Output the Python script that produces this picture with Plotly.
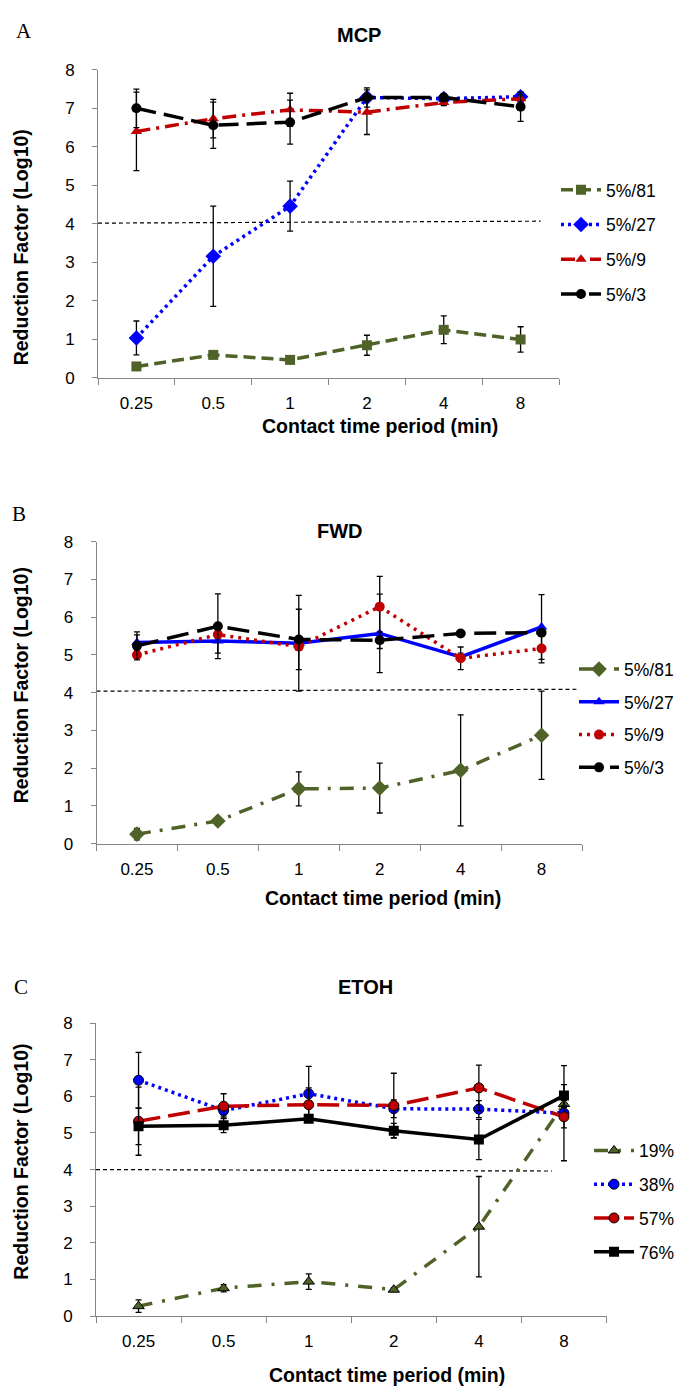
import plotly.graph_objects as go

W, H = 685, 1392

times = ["0.25", "0.5", "1", "2", "4", "8"]
threshold = 4

# Panel A: MCP
mcp_labels = ["5%/81", "5%/27", "5%/9", "5%/3"]
mcp_81 = [0.30, 0.60, 0.47, 0.85, 1.25, 1.00]
mcp_81_err = [0.05, 0.05, 0.05, 0.26, 0.36, 0.33]
mcp_27 = [1.04, 3.16, 4.46, 7.28, 7.25, 7.30]
mcp_27_err = [0.44, 1.30, 0.65, 0.10, 0.08, 0.12]
mcp_9 = [6.40, 6.73, 6.96, 6.90, 7.15, 7.25]
mcp_9_err = [1.02, 0.50, 0.43, 0.58, 0.08, 0.10]
mcp_3 = [7.00, 6.56, 6.64, 7.28, 7.28, 7.04]
mcp_3_err = [0.50, 0.60, 0.57, 0.25, 0.10, 0.38]

# Panel B: FWD
fwd_labels = ["5%/81", "5%/27", "5%/9", "5%/3"]
fwd_81 = [0.25, 0.60, 1.45, 1.47, 1.94, 2.87]
fwd_81_err = [0.15, 0.05, 0.45, 0.66, 1.47, 1.17]
fwd_27 = [5.33, 5.37, 5.31, 5.57, 4.95, 5.74]
fwd_27_err = [0.20, 0.32, 1.27, 1.04, 0.10, 0.86]
fwd_9 = [5.00, 5.54, 5.22, 6.28, 4.91, 5.17]
fwd_9_err = [0.05, 0.10, 0.10, 0.80, 0.30, 0.38]
fwd_3 = [5.24, 5.76, 5.41, 5.39, 5.57, 5.59]
fwd_3_err = [0.37, 0.86, 0.80, 0.22, 0.05, 0.05]

# Panel C: ETOH
etoh_labels = ["19%", "38%", "57%", "76%"]
etoh_19 = [0.27, 0.76, 0.94, 0.72, 2.44, 5.79]
etoh_19_err = [0.17, 0.10, 0.21, 0.05, 1.37, 0.10]
etoh_38 = [6.44, 5.61, 6.07, 5.66, 5.65, 5.54]
etoh_38_err = [0.76, 0.15, 0.75, 0.24, 0.23, 1.30]
etoh_57 = [5.32, 5.73, 5.77, 5.75, 6.23, 5.44]
etoh_57_err = [0.93, 0.34, 0.46, 0.88, 0.62, 0.30]
etoh_76 = [5.18, 5.21, 5.39, 5.06, 4.82, 6.02]
etoh_76_err = [0.50, 0.20, 0.10, 0.20, 0.55, 0.30]

OLIVE = "#4F6228"
BLUE = "#0000FF"
RED = "#C00000"
BLACK = "#000000"
AXIS = "#868686"
FONT = "Liberation Sans, Arial, sans-serif"

fig = go.Figure()


def add(panel, name, y, err, color, dash, symbol, msize, mline=None, lw=3.5):
    ax = "" if panel == 1 else str(panel)
    fig.add_trace(go.Scatter(
        x=times, y=y, name=name, mode="lines+markers",
        xaxis="x" + ax, yaxis="y" + ax, legend="legend" + ax,
        legendgroup=f"{panel}-{name}",
        line=dict(color=color, width=lw, dash=dash),
        marker=dict(symbol=symbol, size=msize, color=color,
                    line=dict(color=mline or color, width=1 if mline else 0)),
        error_y=dict(type="data", array=err, color="black", thickness=1.3, width=3),
    ))


# A
add(1, mcp_labels[0], mcp_81, mcp_81_err, OLIVE, "12px,6px", "square", 10)
add(1, mcp_labels[1], mcp_27, mcp_27_err, BLUE, "3px,4px", "diamond", 12)
add(1, mcp_labels[2], mcp_9, mcp_9_err, RED, "14px,6px,3px,6px", "triangle-up", 10)
add(1, mcp_labels[3], mcp_3, mcp_3_err, BLACK, "20px,8px", "circle", 10)
# B
add(2, fwd_labels[0], fwd_81, fwd_81_err, OLIVE, "14px,9px,3px,9px", "diamond", 12)
add(2, fwd_labels[1], fwd_27, fwd_27_err, BLUE, "solid", "triangle-up", 10)
add(2, fwd_labels[2], fwd_9, fwd_9_err, RED, "3px,5px", "circle", 10)
add(2, fwd_labels[3], fwd_3, fwd_3_err, BLACK, "22px,9px", "circle", 10)
# C
add(3, etoh_labels[0], etoh_19, etoh_19_err, OLIVE, "14px,10px,3px,10px", "triangle-up", 10, "#000000")
add(3, etoh_labels[1], etoh_38, etoh_38_err, BLUE, "3px,4px", "circle", 10, "#000000")
add(3, etoh_labels[2], etoh_57, etoh_57_err, RED, "22px,8px", "circle", 10, "#000000")
add(3, etoh_labels[3], etoh_76, etoh_76_err, BLACK, "solid", "square", 10)


def px2x(p):
    return p / W


def px2y(p):
    return 1 - p / H


panels = [
    # x0, x1, ytop(8), ybottom(0)
    dict(x0=90, x1=551, yt=53.5, yb=366),
    dict(x0=88.5, x1=574, yt=532, yb=838),
    dict(x0=88, x1=598.5, yt=1020, yb=1317),
]

layout = dict(
    width=W, height=H, margin=dict(l=0, r=0, t=0, b=0),
    paper_bgcolor="white", plot_bgcolor="white",
    font=dict(family=FONT, size=17, color="black"),
    showlegend=True,
)

for i, p in enumerate(panels, start=1):
    sfx = "" if i == 1 else str(i)
    layout["xaxis" + sfx] = dict(
        domain=[px2x(p["x0"]), px2x(p["x1"])], anchor="y" + sfx,
        type="category", range=[-0.5, 5.5], tickson="boundaries",
        ticks="outside", ticklen=6, tickcolor=AXIS, tickwidth=1,
        showline=True, linecolor=AXIS, linewidth=1, showgrid=False,
        zeroline=False, ticklabelstandoff=10,
        tickfont=dict(size=17, family=FONT),
    )
    layout["yaxis" + sfx] = dict(
        domain=[px2y(p["yb"]), px2y(p["yt"])], anchor="x" + sfx,
        range=[0, 8], tickvals=list(range(0, 9)),
        ticks="outside", ticklen=5, tickcolor=AXIS, tickwidth=1,
        showline=True, linecolor=AXIS, linewidth=1, showgrid=False,
        zeroline=False, ticklabelstandoff=14,
        tickfont=dict(size=17, family=FONT),
    )

legend_pos = [(548, 157, 9), (566, 643, 7), (581, 1131, 8)]
for i, (lx, ly, gap) in enumerate(legend_pos, start=1):
    sfx = "" if i == 1 else str(i)
    layout["legend" + sfx] = dict(
        x=px2x(lx), y=px2y(ly), xanchor="left", yanchor="top",
        bgcolor="rgba(0,0,0,0)", font=dict(size=17.5, family=FONT),
        tracegroupgap=gap, itemwidth=40,
    )

fig.update_layout(**layout)

# threshold reference lines (4 log10 reduction)
th = [(1, -0.5, 4.02, 5.26, 4.07), (2, -0.5, 4.04, 5.45, 4.09), (3, -0.5, 4.0, 4.86, 3.96)]
for i, xa, ya, xb, yb in th:
    sfx = "" if i == 1 else str(i)
    fig.add_shape(type="line", xref="x" + sfx, yref="y" + sfx,
                  x0=xa, x1=xb, y0=ya, y1=yb,
                  line=dict(color="black", width=1.2, dash="4px,3px"), layer="below")

ann = []
# titles
for txt, cx, cy in [("MCP", 351, 18), ("FWD", 332, 521), ("ETOH", 357, 983)]:
    ann.append(dict(text=f"<b>{txt}</b>", x=px2x(cx), y=px2y(cy), xref="paper", yref="paper",
                    showarrow=False, font=dict(size=20, family=FONT), xanchor="center", yanchor="middle"))
# panel letters
for txt, cx, cy in [("A", 16, 14), ("B", 11, 504), ("C", 13, 983)]:
    ann.append(dict(text=txt, x=px2x(cx), y=px2y(cy), xref="paper", yref="paper",
                    showarrow=False, font=dict(size=21, family="Liberation Serif, Times New Roman, serif"),
                    xanchor="center", yanchor="middle"))
# x-axis titles
for cx, cy in [(372, 415), (375, 893), (379, 1377)]:
    ann.append(dict(text="<b>Contact time period (min)</b>", x=px2x(cx), y=px2y(cy),
                    xref="paper", yref="paper", showarrow=False,
                    font=dict(size=19.5, family=FONT), xanchor="center", yanchor="middle"))
# y-axis titles
for cy in [233.5, 677.5, 1160.5]:
    ann.append(dict(text="<b>Reduction Factor (Log10)</b>", x=px2x(13), y=px2y(cy),
                    xref="paper", yref="paper", showarrow=False, textangle=-90,
                    font=dict(size=19.5, family=FONT), xanchor="center", yanchor="middle"))
fig.update_layout(annotations=ann)

fig.write_html("out.html")
